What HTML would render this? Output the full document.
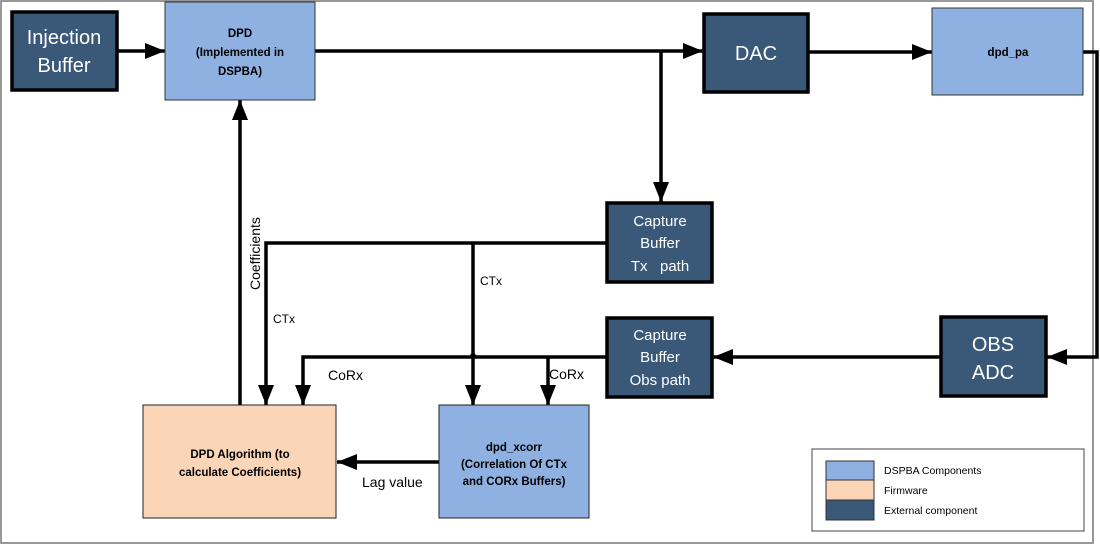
<!DOCTYPE html>
<html><head><meta charset="utf-8"><style>
html,body{margin:0;padding:0;background:#fff;}
svg{display:block;}
text{font-family:"Liberation Sans",sans-serif;}
</style></head><body>
<svg width="1100" height="545" viewBox="0 0 1100 545" xmlns="http://www.w3.org/2000/svg">
<defs>
<marker id="b" viewBox="0 0 20 16" markerWidth="20" markerHeight="16" refX="20" refY="8" orient="auto" markerUnits="userSpaceOnUse">
<path d="M0,0 L20,8 L0,16 z" fill="#000"/></marker>
</defs>
<rect x="1" y="1" width="1092" height="542" fill="#fff" stroke="#777" stroke-width="1.5"/>

<!-- connectors -->
<g stroke="#000" stroke-width="3.5" fill="none">
<line x1="118" y1="51" x2="165" y2="51" marker-end="url(#b)"/>
<line x1="315" y1="51" x2="703" y2="51" marker-end="url(#b)"/>
<line x1="661" y1="51" x2="661" y2="202" marker-end="url(#b)"/>
<line x1="809" y1="52" x2="932" y2="52" marker-end="url(#b)"/>
<polyline points="1083,52 1097,52 1097,357 1047,357" marker-end="url(#b)"/>
<line x1="941" y1="357" x2="713" y2="357" marker-end="url(#b)"/>
<line x1="240" y1="405" x2="240" y2="100" marker-end="url(#b)"/>
<polyline points="607,243 266,243 266,405" marker-end="url(#b)"/>
<line x1="473" y1="243" x2="473" y2="405" marker-end="url(#b)"/>
<polyline points="607,357 303,357 303,405" marker-end="url(#b)"/>
<line x1="548" y1="357" x2="548" y2="405" marker-end="url(#b)"/>
<line x1="439" y1="462" x2="337" y2="462" marker-end="url(#b)"/>
</g>
<circle cx="473" cy="356" r="3" fill="#000"/>

<!-- boxes -->
<rect x="12" y="12" width="105" height="78" fill="#3a5878" stroke="#000" stroke-width="3.5"/>
<rect x="165" y="2" width="150" height="98" fill="#8eb1e1" stroke="#333" stroke-width="1"/>
<rect x="704" y="14" width="104" height="78" fill="#3a5878" stroke="#000" stroke-width="3.5"/>
<rect x="932" y="8" width="151" height="87" fill="#8eb1e1" stroke="#333" stroke-width="1"/>
<rect x="607" y="203" width="105" height="79" fill="#3a5878" stroke="#000" stroke-width="3.5"/>
<rect x="607" y="318" width="105" height="79" fill="#3a5878" stroke="#000" stroke-width="3.5"/>
<rect x="941" y="317" width="105" height="79" fill="#3a5878" stroke="#000" stroke-width="3.5"/>
<rect x="143" y="405" width="193" height="113" fill="#fbd5b8" stroke="#222" stroke-width="1"/>
<rect x="439" y="405" width="150" height="113" fill="#8eb1e1" stroke="#222" stroke-width="1"/>

<!-- box text -->
<g fill="#fff" text-anchor="middle" font-size="20">
<text x="64" y="44">Injection</text><text x="64" y="72">Buffer</text>
<text x="756" y="60">DAC</text>
<text x="993" y="351">OBS</text><text x="993" y="379">ADC</text>
</g>
<g fill="#fff" text-anchor="middle" font-size="15">
<text x="660" y="226">Capture</text><text x="660" y="248">Buffer</text><text x="660" y="271">Tx&#160;&#160;&#160;path</text>
<text x="660" y="340">Capture</text><text x="660" y="362">Buffer</text><text x="660" y="385">Obs path</text>
</g>
<g fill="#000" text-anchor="middle" font-size="11.5" font-weight="bold">
<text x="240" y="37">DPD</text><text x="240" y="56">(Implemented in</text><text x="240" y="75">DSPBA)</text>
<text x="1008" y="56">dpd_pa</text>
<text x="240" y="458">DPD Algorithm (to</text>
<text x="240" y="476">calculate Coefficients)</text>
<text x="514" y="451">dpd_xcorr</text><text x="514" y="468">(Correlation Of CTx</text><text x="514" y="485">and CORx Buffers)</text>
</g>

<!-- labels -->
<g fill="#000" font-size="12">
<text x="273" y="323">CTx</text>
<text x="480" y="285">CTx</text>
</g>
<g fill="#000" font-size="14">
<text x="328" y="380">CoRx</text>
<text x="549" y="379">CoRx</text>
<text x="362" y="487">Lag value</text>
<text transform="translate(260,290) rotate(-90)">Coefficients</text>
</g>

<!-- legend -->
<rect x="812" y="449" width="272" height="82" fill="#fff" stroke="#444" stroke-width="1"/>
<rect x="826" y="461" width="48" height="19" fill="#8eb1e1" stroke="#333" stroke-width="1"/>
<rect x="826" y="480" width="48" height="20" fill="#fbd5b8" stroke="#333" stroke-width="1"/>
<rect x="826" y="500" width="48" height="20" fill="#3a5878" stroke="#333" stroke-width="1"/>
<g fill="#000" font-size="10.5">
<text x="884" y="474">DSPBA Components</text>
<text x="884" y="494">Firmware</text>
<text x="884" y="514">External component</text>
</g>
</svg>
</body></html>
